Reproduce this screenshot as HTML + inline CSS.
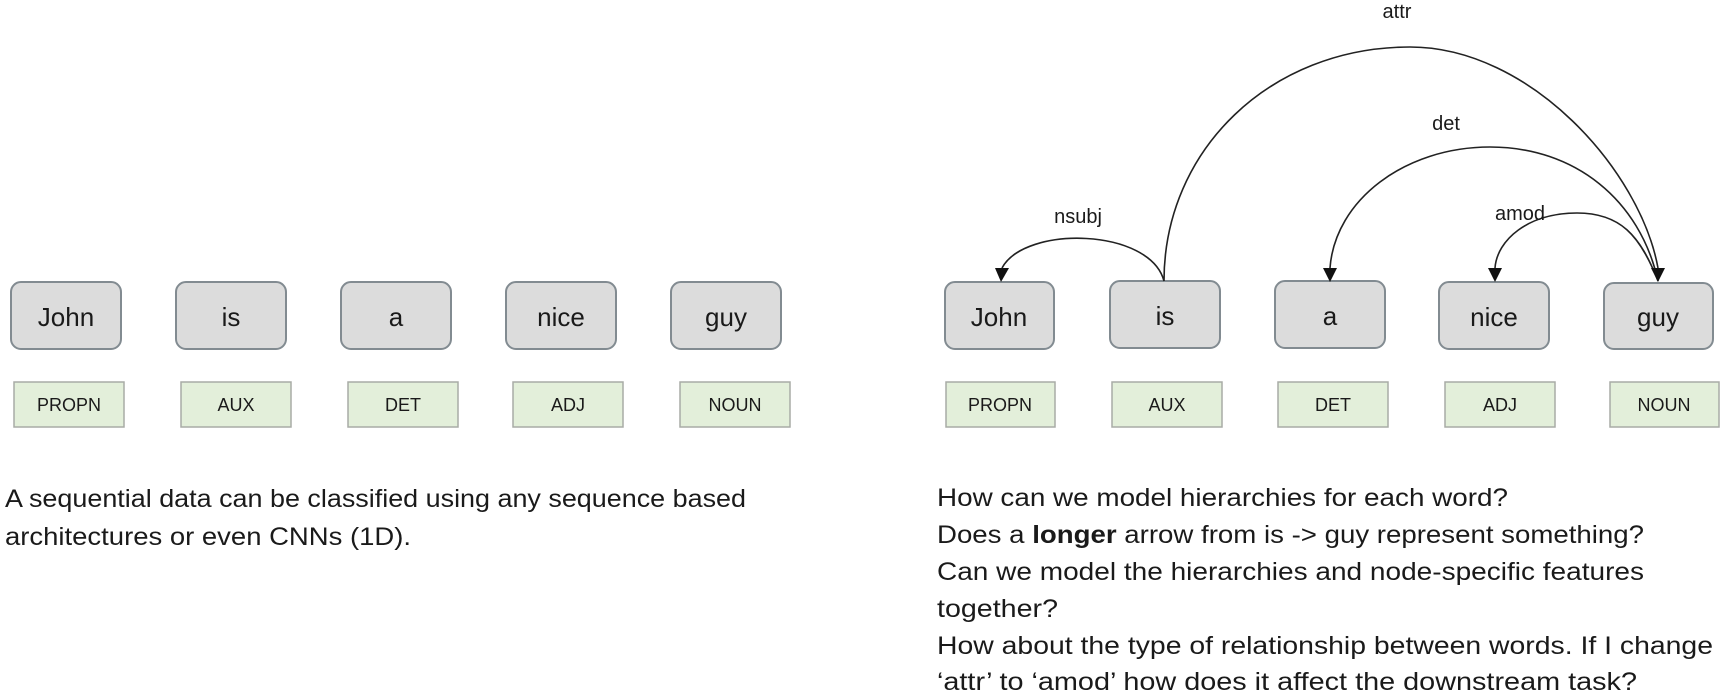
<!DOCTYPE html>
<html><head><meta charset="utf-8"><style>
html,body{margin:0;padding:0;background:#fff;}
svg{display:block;}
text{font-family:"Liberation Sans",sans-serif;fill:#1a1a1a;}
.w{font-size:26px;text-anchor:middle;}
.t{font-size:18px;text-anchor:middle;}
.l{font-size:20px;text-anchor:middle;}
.p{font-size:25px;}
.b{fill:#dcdcdc;stroke:#828b91;stroke-width:2;}
.g{fill:#e3efda;stroke:#a8aca6;stroke-width:1.5;}
.a{fill:none;stroke:#222;stroke-width:1.6;}
</style></head><body>
<svg width="1725" height="695" viewBox="0 0 1725 695" xmlns="http://www.w3.org/2000/svg">
<rect class="b" x="11" y="282" width="110" height="67" rx="10"/>
<rect class="b" x="176" y="282" width="110" height="67" rx="10"/>
<rect class="b" x="341" y="282" width="110" height="67" rx="10"/>
<rect class="b" x="506" y="282" width="110" height="67" rx="10"/>
<rect class="b" x="671" y="282" width="110" height="67" rx="10"/>
<text class="w" x="66" y="326">John</text>
<text class="w" x="231" y="326">is</text>
<text class="w" x="396" y="326">a</text>
<text class="w" x="561" y="326">nice</text>
<text class="w" x="726" y="326">guy</text>
<rect class="g" x="14" y="382" width="110" height="45"/>
<rect class="g" x="181" y="382" width="110" height="45"/>
<rect class="g" x="348" y="382" width="110" height="45"/>
<rect class="g" x="513" y="382" width="110" height="45"/>
<rect class="g" x="680" y="382" width="110" height="45"/>
<text class="t" x="69" y="411">PROPN</text>
<text class="t" x="236" y="411">AUX</text>
<text class="t" x="403" y="411">DET</text>
<text class="t" x="568" y="411">ADJ</text>
<text class="t" x="735" y="411">NOUN</text>
<text class="p" x="5" y="507" textLength="741" lengthAdjust="spacingAndGlyphs">A sequential data can be classified using any sequence based</text>
<text class="p" x="5" y="545" textLength="406" lengthAdjust="spacingAndGlyphs">architectures or even CNNs (1D).</text>

<rect class="b" x="945" y="282" width="109" height="67" rx="10"/>
<rect class="b" x="1110" y="281" width="110" height="67" rx="10"/>
<rect class="b" x="1275" y="281" width="110" height="67" rx="10"/>
<rect class="b" x="1439" y="282" width="110" height="67" rx="10"/>
<rect class="b" x="1604" y="283" width="109" height="66" rx="10"/>
<text class="w" x="999" y="326">John</text>
<text class="w" x="1165" y="325">is</text>
<text class="w" x="1330" y="325">a</text>
<text class="w" x="1494" y="326">nice</text>
<text class="w" x="1658" y="326">guy</text>
<rect class="g" x="946" y="382" width="109" height="45"/>
<rect class="g" x="1112" y="382" width="110" height="45"/>
<rect class="g" x="1278" y="382" width="110" height="45"/>
<rect class="g" x="1445" y="382" width="110" height="45"/>
<rect class="g" x="1610" y="382" width="109" height="45"/>
<text class="t" x="1000" y="411">PROPN</text>
<text class="t" x="1167" y="411">AUX</text>
<text class="t" x="1333" y="411">DET</text>
<text class="t" x="1500" y="411">ADJ</text>
<text class="t" x="1664" y="411">NOUN</text>

<path class="a" d="M1164,281 C1150,228 1025,225 1002,268"/>
<path class="a" d="M1164,281 C1164,150 1270,47 1410,47 C1530,47 1640,170 1658,268"/>
<path class="a" d="M1658,281 C1640,200 1575,147 1490,147 C1405,147 1335,200 1330,268"/>
<path class="a" d="M1658,281 C1640,235 1620,213 1577,213 C1528,213 1497,240 1495,268"/>
<polygon points="995,268 1009,268 1001,282" fill="#111"/>
<polygon points="1323,268 1337,268 1330,282" fill="#111"/>
<polygon points="1488,268 1502,268 1495,282" fill="#111"/>
<polygon points="1651,268 1665,268 1658,282" fill="#111"/>
<text class="l" x="1397" y="18">attr</text>
<text class="l" x="1446" y="130">det</text>
<text class="l" x="1078" y="223">nsubj</text>
<text class="l" x="1520" y="220">amod</text>

<text class="p" x="937" y="506" textLength="571" lengthAdjust="spacingAndGlyphs">How can we model hierarchies for each word?</text>
<text class="p" x="937" y="543" textLength="707" lengthAdjust="spacingAndGlyphs">Does a <tspan font-weight="bold">longer</tspan> arrow from is -&gt; guy represent something?</text>
<text class="p" x="937" y="580" textLength="707" lengthAdjust="spacingAndGlyphs">Can we model the hierarchies and node-specific features</text>
<text class="p" x="937" y="617" textLength="121" lengthAdjust="spacingAndGlyphs">together?</text>
<text class="p" x="937" y="654" textLength="776" lengthAdjust="spacingAndGlyphs">How about the type of relationship between words. If I change</text>
<text class="p" x="937" y="690" textLength="700" lengthAdjust="spacingAndGlyphs">‘attr’ to ‘amod’ how does it affect the downstream task?</text>
</svg>
</body></html>
